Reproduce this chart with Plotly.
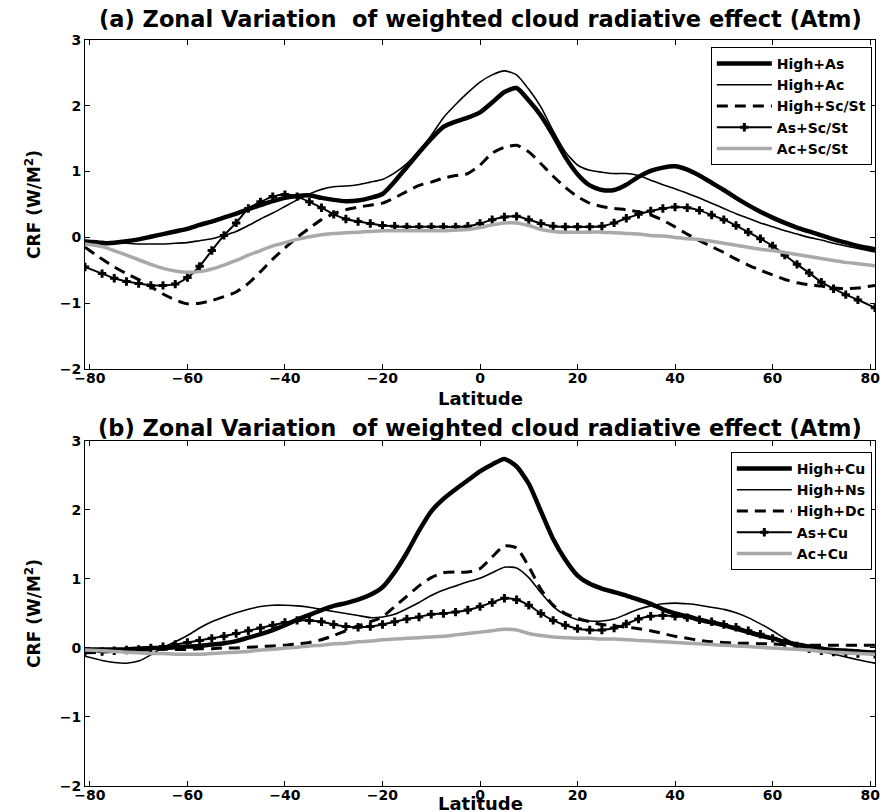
import plotly.graph_objects as go

# Latitude grid (degrees)
lat = [-81, -77.5, -75, -72.5, -70, -67.5, -65, -62.5, -60, -57.5, -55, -52.5, -50,
       -47.5, -45, -42.5, -40, -37.5, -35, -32.5, -30, -27.5, -25, -22.5, -20,
       -17.5, -15, -12.5, -10, -7.5, -5, -2.5, 0, 2.5, 5, 7.5, 10, 12.5, 15, 17.5,
       20, 22.5, 25, 27.5, 30, 32.5, 35, 37.5, 40, 42.5, 45, 47.5, 50, 52.5, 55,
       57.5, 60, 62.5, 65, 67.5, 70, 72.5, 75, 77.5, 81]

# Panel (a)
high_as = [-0.07, -0.09, -0.08, -0.06, -0.03, 0.01, 0.05, 0.09, 0.13, 0.19,
           0.24, 0.30, 0.36, 0.43, 0.49, 0.55, 0.60, 0.63, 0.64, 0.60,
           0.57, 0.55, 0.56, 0.60, 0.66, 0.85, 1.07, 1.29, 1.50, 1.68,
           1.76, 1.82, 1.90, 2.05, 2.21, 2.27, 2.08, 1.85, 1.55, 1.22,
           0.96, 0.79, 0.72, 0.72, 0.80, 0.92, 1.01, 1.06, 1.08, 1.03,
           0.94, 0.83, 0.72, 0.60, 0.49, 0.39, 0.30, 0.22, 0.15, 0.09,
           0.03, -0.03, -0.08, -0.13, -0.18]
high_ac = [-0.04, -0.06, -0.08, -0.09, -0.10, -0.10, -0.10, -0.09, -0.08, -0.05,
           -0.02, 0.03, 0.09, 0.18, 0.28, 0.37, 0.47, 0.57, 0.66, 0.73,
           0.77, 0.78, 0.80, 0.84, 0.88, 0.98, 1.12, 1.32, 1.55, 1.82,
           2.02, 2.20, 2.36, 2.47, 2.53, 2.47, 2.25, 1.98, 1.62, 1.30,
           1.10, 1.02, 0.99, 0.97, 0.97, 0.94, 0.87, 0.80, 0.74, 0.67,
           0.60, 0.52, 0.44, 0.36, 0.29, 0.22, 0.16, 0.10, 0.05, 0.00,
           -0.04, -0.09, -0.13, -0.17, -0.22]
high_scst = [-0.15, -0.33, -0.45, -0.55, -0.64, -0.75, -0.86, -0.95, -1.01, -1.00,
             -0.96, -0.90, -0.83, -0.70, -0.52, -0.33, -0.16, 0.00, 0.14, 0.27,
             0.36, 0.42, 0.46, 0.49, 0.52, 0.60, 0.70, 0.79, 0.84, 0.90,
             0.94, 0.97, 1.10, 1.28, 1.37, 1.40, 1.30, 1.12, 0.93, 0.76,
             0.62, 0.52, 0.47, 0.44, 0.42, 0.39, 0.34, 0.26, 0.16, 0.05,
             -0.05, -0.14, -0.23, -0.33, -0.42, -0.50, -0.57, -0.64, -0.69, -0.72,
             -0.74, -0.77, -0.78, -0.77, -0.73]
as_scst = [-0.45, -0.55, -0.62, -0.67, -0.70, -0.73, -0.73, -0.71, -0.61, -0.44,
           -0.20, 0.03, 0.22, 0.44, 0.54, 0.62, 0.65, 0.62, 0.54, 0.45,
           0.35, 0.28, 0.24, 0.21, 0.18, 0.17, 0.16, 0.16, 0.16, 0.16,
           0.16, 0.17, 0.21, 0.27, 0.31, 0.32, 0.27, 0.21, 0.17, 0.16,
           0.16, 0.16, 0.17, 0.22, 0.29, 0.35, 0.40, 0.44, 0.46, 0.45,
           0.41, 0.34, 0.27, 0.18, 0.08, -0.02, -0.13, -0.27, -0.41, -0.54,
           -0.68, -0.78, -0.87, -0.95, -1.07]
ac_scst = [-0.10, -0.14, -0.20, -0.27, -0.34, -0.41, -0.47, -0.51, -0.53, -0.52,
           -0.48, -0.42, -0.35, -0.27, -0.20, -0.13, -0.08, -0.03, 0.01, 0.04,
           0.06, 0.07, 0.08, 0.09, 0.10, 0.10, 0.10, 0.10, 0.10, 0.10,
           0.11, 0.12, 0.15, 0.19, 0.22, 0.22, 0.18, 0.12, 0.09, 0.08,
           0.08, 0.08, 0.08, 0.07, 0.06, 0.05, 0.03, 0.02, 0.00, -0.02,
           -0.03, -0.06, -0.09, -0.12, -0.15, -0.18, -0.20, -0.23, -0.26, -0.29,
           -0.32, -0.35, -0.38, -0.40, -0.43]

# Panel (b)
high_cu = [-0.02, -0.02, -0.02, -0.02, -0.01, 0.00, 0.00, 0.01, 0.02, 0.03,
           0.05, 0.07, 0.10, 0.15, 0.20, 0.26, 0.33, 0.41, 0.48, 0.55,
           0.61, 0.65, 0.70, 0.77, 0.88, 1.10, 1.38, 1.70, 1.98, 2.16,
           2.30, 2.43, 2.56, 2.66, 2.74, 2.63, 2.38, 1.98, 1.58, 1.28,
           1.05, 0.93, 0.86, 0.81, 0.76, 0.70, 0.64, 0.56, 0.50, 0.46,
           0.41, 0.37, 0.33, 0.28, 0.23, 0.18, 0.14, 0.09, 0.05, 0.02,
           -0.01, -0.03, -0.04, -0.05, -0.07]
high_ns = [-0.12, -0.18, -0.21, -0.22, -0.19, -0.10, 0.01, 0.09, 0.18, 0.29,
           0.38, 0.45, 0.51, 0.56, 0.60, 0.62, 0.62, 0.61, 0.59, 0.56,
           0.53, 0.50, 0.47, 0.44, 0.45, 0.49, 0.57, 0.66, 0.76, 0.84,
           0.90, 0.96, 1.01, 1.09, 1.17, 1.16, 1.02, 0.80, 0.60, 0.48,
           0.41, 0.39, 0.39, 0.42, 0.49, 0.56, 0.61, 0.64, 0.65, 0.64,
           0.62, 0.59, 0.56, 0.51, 0.44, 0.35, 0.25, 0.14, 0.05, -0.01,
           -0.05, -0.09, -0.13, -0.17, -0.22]
high_dc = [-0.07, -0.06, -0.05, -0.04, -0.03, -0.03, -0.02, -0.02, -0.02, -0.01,
           -0.01, 0.00, 0.00, 0.01, 0.02, 0.03, 0.04, 0.06, 0.08, 0.12,
           0.18, 0.25, 0.32, 0.38, 0.45, 0.60, 0.75, 0.90, 1.02, 1.09,
           1.10, 1.10, 1.15, 1.32, 1.48, 1.45, 1.18, 0.85, 0.62, 0.50,
           0.43, 0.38, 0.34, 0.32, 0.30, 0.28, 0.25, 0.21, 0.17, 0.14,
           0.11, 0.09, 0.08, 0.07, 0.07, 0.06, 0.06, 0.05, 0.05, 0.04,
           0.04, 0.04, 0.04, 0.04, 0.04]
as_cu = [-0.05, -0.05, -0.04, -0.03, -0.02, 0.00, 0.02, 0.05, 0.08, 0.11,
         0.14, 0.17, 0.21, 0.25, 0.29, 0.33, 0.37, 0.40, 0.40, 0.38,
         0.34, 0.31, 0.30, 0.31, 0.34, 0.38, 0.42, 0.45, 0.49, 0.50,
         0.52, 0.55, 0.60, 0.66, 0.72, 0.70, 0.62, 0.50, 0.40, 0.33,
         0.28, 0.26, 0.26, 0.29, 0.35, 0.42, 0.46, 0.47, 0.46, 0.44,
         0.41, 0.38, 0.34, 0.30, 0.25, 0.20, 0.14, 0.08, 0.03, -0.01,
         -0.04, -0.06, -0.07, -0.08, -0.09]
ac_cu = [-0.03, -0.04, -0.05, -0.06, -0.07, -0.08, -0.08, -0.09, -0.09, -0.09,
         -0.08, -0.07, -0.06, -0.05, -0.03, -0.02, 0.00, 0.01, 0.03, 0.04,
         0.06, 0.07, 0.09, 0.10, 0.12, 0.13, 0.14, 0.15, 0.16, 0.17,
         0.19, 0.21, 0.23, 0.25, 0.27, 0.26, 0.21, 0.18, 0.16, 0.15,
         0.14, 0.14, 0.13, 0.13, 0.12, 0.11, 0.10, 0.09, 0.08, 0.07,
         0.06, 0.05, 0.04, 0.03, 0.02, 0.01, 0.00, -0.01, -0.02, -0.03,
         -0.05, -0.06, -0.07, -0.08, -0.09]

names_a = ["High+As", "High+Ac", "High+Sc/St", "As+Sc/St", "Ac+Sc/St"]
names_b = ["High+Cu", "High+Ns", "High+Dc", "As+Cu", "Ac+Cu"]
x_ticks = [-80, -60, -40, -20, 0, 20, 40, 60, 80]
y_ticks = [-2, -1, 0, 1, 2, 3]
title_a = "(a) Zonal Variation \u00a0of weighted cloud radiative effect (Atm)"
title_b = "(b) Zonal Variation \u00a0of weighted cloud radiative effect (Atm)"

FONT = "DejaVu Sans"
GRAY = "#a9a9a9"

styles = [
    dict(mode="lines", line=dict(color="black", width=4.5)),
    dict(mode="lines", line=dict(color="black", width=1.6)),
    dict(mode="lines", line=dict(color="black", width=3, dash="11px,7px")),
    dict(mode="lines+markers", line=dict(color="black", width=2),
         marker=dict(symbol="cross-thin", size=6, color="black",
                     line=dict(color="black", width=3))),
    dict(mode="lines", line=dict(color=GRAY, width=3.5)),
]

fig = go.Figure()
for name, y, st in zip(names_a, [high_as, high_ac, high_scst, as_scst, ac_scst], styles):
    s = dict(st)
    s["line"] = dict(st["line"], shape="spline", smoothing=0.6)
    fig.add_trace(go.Scatter(x=lat, y=y, name=name, xaxis="x", yaxis="y",
                             legend="legend", **s))
for name, y, st in zip(names_b, [high_cu, high_ns, high_dc, as_cu, ac_cu], styles):
    s = dict(st)
    s["line"] = dict(st["line"], shape="spline", smoothing=0.6)
    fig.add_trace(go.Scatter(x=lat, y=y, name=name, xaxis="x2", yaxis="y2",
                             legend="legend2", **s))

tickfont = dict(family=FONT, size=14, color="black", weight="bold")
axis_common = dict(showline=True, linecolor="black", linewidth=1, mirror="ticks",
                   ticks="inside", ticklen=5, tickcolor="black", showgrid=False,
                   zeroline=False, tickfont=tickfont, automargin=False)
xcommon = dict(axis_common, range=[-81, 81], tickvals=x_ticks, ticklabelstandoff=-4)
ycommon = dict(axis_common, range=[-2, 3], tickvals=y_ticks,
               title=dict(text="CRF (W/M<sup>2</sup>)", standoff=14,
                          font=dict(family=FONT, size=17, color="black", weight="bold")))

legend_common = dict(bgcolor="white", bordercolor="black", borderwidth=1,
                     font=dict(family=FONT, size=14, color="black", weight="bold"),
                     itemwidth=55, xanchor="right", yanchor="top", tracegroupgap=0)

title_font = dict(family=FONT, size=22.5, color="black", weight="bold")
xlab_font = dict(family=FONT, size=18, color="black", weight="bold")


def ann(text, y, font, yanchor="middle"):
    return dict(text=text, xref="paper", yref="paper", x=0.5, y=y, xanchor="center",
                yanchor=yanchor, showarrow=False, font=font)


# The page body adds an 8 px margin, so the figure is 8 px smaller than the window.
fig.update_layout(
    width=881, height=804,
    margin=dict(l=77, r=14, t=32, b=26),
    paper_bgcolor="white", plot_bgcolor="white",
    xaxis=dict(xcommon, domain=[0, 1], anchor="y"),
    yaxis=dict(ycommon, domain=[0.559, 1], anchor="x"),
    xaxis2=dict(xcommon, domain=[0, 1], anchor="y2"),
    yaxis2=dict(ycommon, domain=[0, 0.4625], anchor="x2"),
    legend=dict(legend_common, x=0.996, y=0.9906),
    legend2=dict(legend_common, x=0.996, y=0.4477),
    annotations=[
        ann(title_a, 1.0275, title_font),
        ann(title_b, 0.4799, title_font),
        ann("Latitude", 0.5201, xlab_font),
        ann("Latitude", -0.040, xlab_font, yanchor="bottom"),
    ],
)

fig.write_html("out.html")
